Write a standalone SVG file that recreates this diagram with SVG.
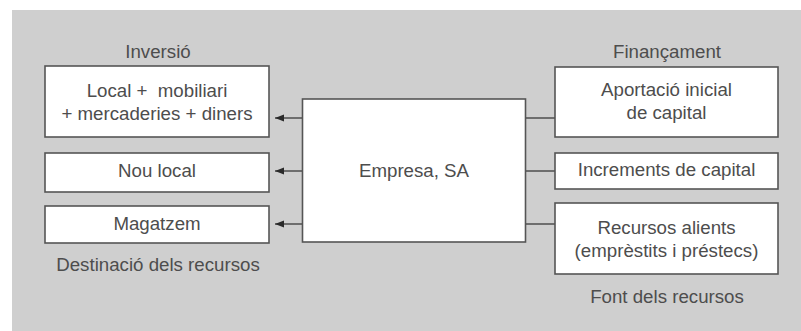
<svg xmlns="http://www.w3.org/2000/svg" width="801" height="331" viewBox="0 0 801 331">
  <defs>
    <marker id="arrow" markerWidth="10" markerHeight="8" refX="9" refY="4" orient="auto" markerUnits="userSpaceOnUse">
      <path d="M9,4 L0,0.5 L0,7.5 Z" fill="#2a2a2a"/>
    </marker>
    <style>
      .box { fill: #ffffff; stroke: #555555; stroke-width: 1.6; }
      .txt { font-family: "Liberation Sans", Arial, sans-serif; font-size: 18.7px; fill: #4d4d4d; text-anchor: middle; }
      .conn { stroke: #555555; stroke-width: 1.6; fill: none; }
    </style>
  </defs>

  <!-- panel background -->
  <rect x="0" y="0" width="801" height="331" fill="#ffffff"/>
  <rect x="12" y="10" width="789" height="321" fill="#cfcfcf"/>

  <!-- column headings and captions -->
  <text class="txt" x="158" y="58">Inversió</text>
  <text class="txt" x="667" y="58">Finançament</text>
  <text class="txt" x="158" y="271">Destinació dels recursos</text>
  <text class="txt" x="667" y="303">Font dels recursos</text>

  <!-- connectors -->
  <g id="connectors">
    <line class="conn" x1="302" y1="118" x2="275" y2="118" marker-end="url(#arrow)"/>
    <line class="conn" x1="302" y1="171" x2="275" y2="171" marker-end="url(#arrow)"/>
    <line class="conn" x1="302" y1="224" x2="275" y2="224" marker-end="url(#arrow)"/>
    <line class="conn" x1="526" y1="118" x2="555" y2="118"/>
    <line class="conn" x1="526" y1="171" x2="555" y2="171"/>
    <line class="conn" x1="526" y1="224" x2="555" y2="224"/>
  </g>

  <!-- central company -->
  <g id="empresa">
    <rect class="box" x="302.5" y="99" width="223" height="143"/>
    <text class="txt" x="414" y="177">Empresa, SA</text>
  </g>

  <!-- investment side -->
  <g id="local-mobiliari">
    <rect class="box" x="45" y="66" width="224" height="71"/>
    <text class="txt" x="157" y="97">Local + &#160;mobiliari</text>
    <text class="txt" x="157" y="120">+ mercaderies + diners</text>
  </g>
  <g id="nou-local">
    <rect class="box" x="45" y="153" width="224" height="39"/>
    <text class="txt" x="157" y="177">Nou local</text>
  </g>
  <g id="magatzem">
    <rect class="box" x="45" y="206" width="224" height="37"/>
    <text class="txt" x="157" y="230">Magatzem</text>
  </g>

  <!-- financing side -->
  <g id="aportacio">
    <rect class="box" x="555" y="67" width="223" height="70"/>
    <text class="txt" x="666.5" y="96">Aportació inicial</text>
    <text class="txt" x="666.5" y="119">de capital</text>
  </g>
  <g id="increments">
    <rect class="box" x="555" y="153" width="223" height="36"/>
    <text class="txt" x="666.5" y="176">Increments de capital</text>
  </g>
  <g id="recursos-alients">
    <rect class="box" x="555" y="203" width="223" height="71"/>
    <text class="txt" x="666.5" y="234">Recursos alients</text>
    <text class="txt" x="666.5" y="257">(emprèstits i préstecs)</text>
  </g>
</svg>
